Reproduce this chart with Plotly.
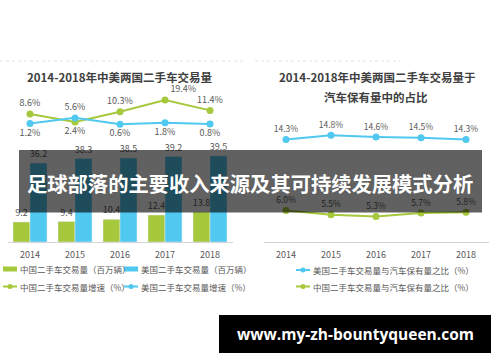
import plotly.graph_objects as go

# ---------------- data ----------------
years = ["2014", "2015", "2016", "2017", "2018"]
cn_volume = [9.2, 9.4, 10.4, 12.4, 13.8]          # 中国二手车交易量（百万辆）
us_volume = [36.2, 38.3, 38.5, 39.2, 39.5]        # 美国二手车交易量（百万辆）
cn_growth = [8.6, 2.4, 10.3, 19.4, 11.4]          # 中国二手车交易量增速（%）
us_growth = [1.2, 5.6, 0.6, 1.8, 0.8]             # 美国二手车交易量增速（%）
us_ratio = [14.3, 14.8, 14.6, 14.5, 14.3]         # 美国 交易量/保有量（%）
cn_ratio = [6.0, 5.5, 5.3, 5.7, 5.8]              # 中国 交易量/保有量（%）

left_title = "2014-2018年中美两国二手车交易量"
right_title_1 = "2014-2018年中美两国二手车交易量于"
right_title_2 = "汽车保有量中的占比"
banner_text = "足球部落的主要收入来源及其可持续发展模式分析"
url_text = "www.my-zh-bountyqueen.com"

name_cn_vol = "中国二手车交易量（百万辆）"
name_us_vol = "美国二手车交易量（百万辆）"
name_cn_gr = "中国二手车交易量增速（%）"
name_us_gr = "美国二手车交易量增速（%）"
name_us_ratio = "美国二手车交易量与汽车保有量之比（%）"
name_cn_ratio = "中国二手车交易量与汽车保有量之比（%）"

# ---------------- style ----------------
W, H = 500, 362
GREEN = "#A6C83C"
BLUE = "#50C8F0"
TXT = "#595959"
TITLE = "#404040"
AXIS = "#D4D4D4"
FONT = "Noto Sans CJK SC"


def X(px):
    return px / W


def Y(py):
    return 1 - py / H


fig = go.Figure()

# left chart: bars
fig.add_trace(go.Bar(x=years, y=cn_volume, name=name_cn_vol, marker_color=GREEN,
                     text=[f"{v:.1f}" for v in cn_volume], textposition="outside",
                     textfont=dict(size=9, color=TXT, family=FONT), cliponaxis=False,
                     constraintext="none", showlegend=False, xaxis="x", yaxis="y"))
fig.add_trace(go.Bar(x=years, y=us_volume, name=name_us_vol, marker_color=BLUE,
                     text=[f"{v:.1f}" for v in us_volume], textposition="outside",
                     textfont=dict(size=9, color=TXT, family=FONT), cliponaxis=False,
                     constraintext="none", showlegend=False, xaxis="x", yaxis="y"))

# left chart: growth lines
fig.add_trace(go.Scatter(x=years, y=cn_growth, name=name_cn_gr, mode="lines+markers+text",
                         line=dict(color=GREEN, width=2), marker=dict(size=7, color=GREEN),
                         text=[f"{v:.1f}%" for v in cn_growth],
                         textposition=["top center", "bottom center", "top center", "top right", "top center"],
                         textfont=dict(size=9, color=TXT, family=FONT), cliponaxis=False,
                         showlegend=False, xaxis="x2", yaxis="y2"))
fig.add_trace(go.Scatter(x=years, y=us_growth, name=name_us_gr, mode="lines+markers+text",
                         line=dict(color=BLUE, width=2), marker=dict(size=7, color=BLUE),
                         text=[f"{v:.1f}%" for v in us_growth],
                         textposition=["bottom center", "top center", "bottom center", "bottom center", "bottom center"],
                         textfont=dict(size=9, color=TXT, family=FONT), cliponaxis=False,
                         showlegend=False, xaxis="x2", yaxis="y2"))

# right chart: ratio lines
fig.add_trace(go.Scatter(x=years, y=us_ratio, name=name_us_ratio, mode="lines+markers+text",
                         line=dict(color=BLUE, width=2), marker=dict(size=7, color=BLUE),
                         text=[f"{v:.1f}%" for v in us_ratio], textposition="top center",
                         textfont=dict(size=8.5, color=TXT, family=FONT), cliponaxis=False,
                         showlegend=False, xaxis="x3", yaxis="y3"))
fig.add_trace(go.Scatter(x=years, y=cn_ratio, name=name_cn_ratio, mode="lines+markers+text",
                         line=dict(color=GREEN, width=2), marker=dict(size=7, color=GREEN),
                         text=[f"{v:.1f}%" for v in cn_ratio], textposition="top center",
                         textfont=dict(size=8.5, color=TXT, family=FONT), cliponaxis=False,
                         showlegend=False, xaxis="x3", yaxis="y3"))

xcommon = dict(type="category", range=[-0.5, 4.5], showgrid=False, zeroline=False,
               ticks="", fixedrange=True)

fig.update_layout(
    width=W, height=H,
    margin=dict(l=0, r=0, t=0, b=0),
    paper_bgcolor="white", plot_bgcolor="rgba(0,0,0,0)",
    font=dict(family=FONT, color=TXT),
    barmode="group", bargap=0.245, bargroupgap=0,
    xaxis=dict(**xcommon, domain=[X(7.5), X(232.5)], anchor="y", showline=True,
               linecolor=AXIS, linewidth=1, tickfont=dict(size=9, color=TXT),
               ticklabelstandoff=4),
    yaxis=dict(domain=[Y(242), Y(140)], range=[0, 102 / 2.18], visible=False, anchor="x"),
    xaxis2=dict(**xcommon, domain=[X(7.5), X(232.5)], anchor="y2", visible=False),
    yaxis2=dict(domain=[Y(150), Y(85)], range=[(125.1 - 150) / 1.29, (125.1 - 85) / 1.29],
                visible=False, anchor="x2"),
    xaxis3=dict(**xcommon, domain=[X(263.5), X(488.5)], anchor="y3", showline=True,
                linecolor=AXIS, linewidth=1, tickfont=dict(size=9, color=TXT),
                ticklabelstandoff=4),
    yaxis3=dict(domain=[Y(242), Y(100)], range=[(261.7 - 242) / 8.54, (261.7 - 100) / 8.54],
                visible=False, anchor="x3"),
)

shapes = []
annotations = []

# faint dotted line at top
shapes.append(dict(type="line", xref="paper", yref="paper", x0=X(0), x1=X(245), y0=Y(61), y1=Y(61),
                   line=dict(color="#E3E3E3", width=1, dash="dot")))
shapes.append(dict(type="line", xref="paper", yref="paper", x0=X(255), x1=X(400), y0=Y(61), y1=Y(61),
                   line=dict(color="#E3E3E3", width=1, dash="dot")))

# titles
annotations.append(dict(text=f"<b>{left_title}</b>", x=X(120), y=Y(77), xref="paper", yref="paper",
                        showarrow=False, xanchor="center", yanchor="middle",
                        font=dict(size=11.5, color=TITLE, family=FONT)))
annotations.append(dict(text=f"<b>{right_title_1}</b>", x=X(377), y=Y(77), xref="paper", yref="paper",
                        showarrow=False, xanchor="center", yanchor="middle",
                        font=dict(size=11.5, color=TITLE, family=FONT)))
annotations.append(dict(text=f"<b>{right_title_2}</b>", x=X(376), y=Y(97), xref="paper", yref="paper",
                        showarrow=False, xanchor="center", yanchor="middle",
                        font=dict(size=11.5, color=TITLE, family=FONT)))


# manual legends
def legend_rect(x, y, color, label):
    shapes.append(dict(type="rect", xref="paper", yref="paper", x0=X(x), x1=X(x + 14),
                       y0=Y(y + 2.5), y1=Y(y - 2.5), fillcolor=color, line=dict(width=0)))
    annotations.append(dict(text=label, x=X(x + 15), y=Y(y), xref="paper", yref="paper",
                            showarrow=False, xanchor="left", yanchor="middle",
                            font=dict(size=8.5, color=TXT, family=FONT)))


def legend_line(x, y, color, label):
    shapes.append(dict(type="line", xref="paper", yref="paper", x0=X(x), x1=X(x + 14),
                       y0=Y(y), y1=Y(y), line=dict(color=color, width=2)))
    shapes.append(dict(type="circle", xref="paper", yref="paper", x0=X(x + 4.5), x1=X(x + 9.5),
                       y0=Y(y + 2.5), y1=Y(y - 2.5), fillcolor=color, line=dict(width=0)))
    annotations.append(dict(text=label, x=X(x + 15), y=Y(y), xref="paper", yref="paper",
                            showarrow=False, xanchor="left", yanchor="middle",
                            font=dict(size=8.5, color=TXT, family=FONT)))


legend_rect(3, 269, GREEN, name_cn_vol)
legend_rect(124, 269, BLUE, name_us_vol)
legend_line(3, 286.5, GREEN, name_cn_gr)
legend_line(124, 286.5, BLUE, name_us_gr)
legend_line(296, 270, BLUE, name_us_ratio)
legend_line(296, 286.5, GREEN, name_cn_ratio)

# overlay banner
shapes.append(dict(type="rect", xref="paper", yref="paper", x0=X(19), x1=X(482), y0=Y(212.5), y1=Y(150),
                   fillcolor="rgba(0,0,0,0.62)", line=dict(width=0), layer="above"))
annotations.append(dict(text=f"<b>{banner_text}</b>", x=X(250), y=Y(183), xref="paper", yref="paper",
                        showarrow=False, xanchor="center", yanchor="middle",
                        font=dict(size=20.3, color="white", family=FONT)))

# url box
shapes.append(dict(type="rect", xref="paper", yref="paper", x0=X(219), x1=X(491), y0=Y(353), y1=Y(315),
                   fillcolor="black", line=dict(width=0), layer="above"))
annotations.append(dict(text=f"<b>{url_text}</b>", x=X(355), y=Y(333.5), xref="paper", yref="paper",
                        showarrow=False, xanchor="center", yanchor="middle",
                        font=dict(size=15.5, color="white", family="Open Sans")))

fig.update_layout(shapes=shapes, annotations=annotations)
fig.write_html(
    "out.html",
    config={"displayModeBar": False, "staticPlot": True},
    post_script="document.body.style.margin='0';document.body.style.padding='0';"
                "document.body.style.overflow='hidden';",
)
